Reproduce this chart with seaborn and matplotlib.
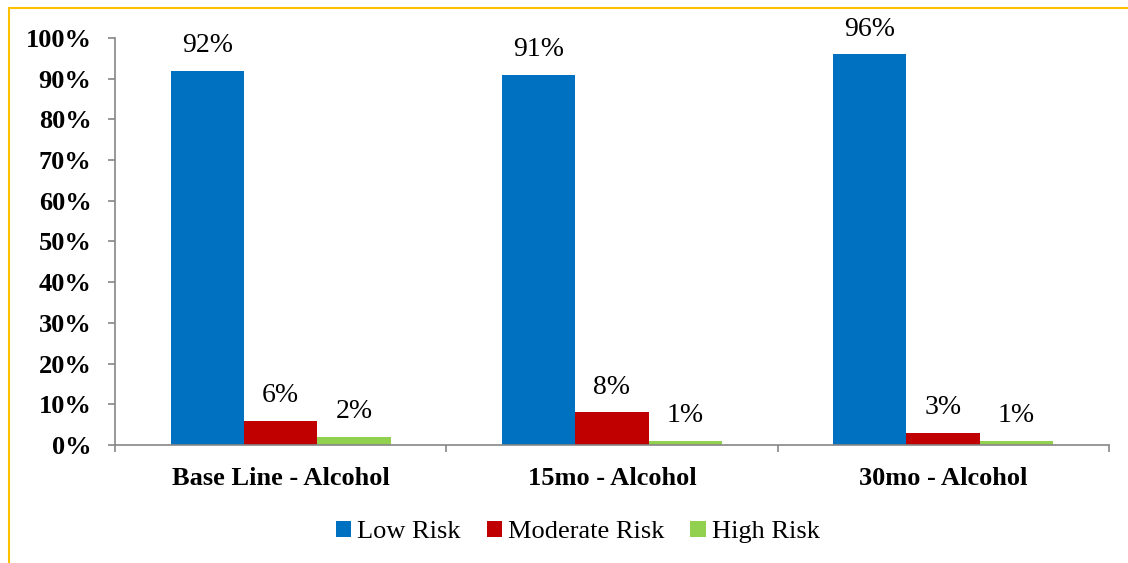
import matplotlib
matplotlib.use("Agg")
import matplotlib.pyplot as plt
import seaborn as sns
import pandas as pd
from matplotlib.patches import Rectangle

categories = ["Base Line - Alcohol", "15mo - Alcohol", "30mo - Alcohol"]
risk_levels = ["Low Risk", "Moderate Risk", "High Risk"]
low_risk = [0.92, 0.91, 0.96]
moderate_risk = [0.06, 0.08, 0.03]
high_risk = [0.02, 0.01, 0.01]

colors = ["#0070C0", "#C00000", "#92D050"]

rows = []
for i, cat in enumerate(categories):
    for level, vals in zip(risk_levels, [low_risk, moderate_risk, high_risk]):
        rows.append({"category": cat, "risk": level, "value": vals[i]})
df = pd.DataFrame(rows)

sns.set_style("white")
plt.rcParams['font.family'] = ['Liberation Serif', 'DejaVu Serif']
plt.rcParams['text.color'] = 'black'
plt.rcParams['xtick.color'] = 'black'
plt.rcParams['ytick.color'] = 'black'

fig = plt.figure(figsize=(11.28, 5.63), dpi=100)
ax = fig.add_axes([0.102, 0.2096, 0.881, 0.7229])

sns.barplot(data=df, x="category", y="value", hue="risk", hue_order=risk_levels,
            palette=colors, width=0.665, gap=0, saturation=1, ax=ax, legend=True,
            edgecolor="none", linewidth=0)

for container in ax.containers:
    ax.bar_label(container, labels=[f"{v*100:.0f}%" for v in container.datavalues],
                 padding=9, fontsize=20, color="black")

ax.set_ylim(0, 1.0)
ax.set_xlim(-0.5, 2.5)
ax.set_yticks([i / 10 for i in range(11)])
ax.set_yticklabels([f"{i*10}%" for i in range(11)], fontsize=19, fontweight="bold")
ax.set_xticks([-0.5, 0.5, 1.5, 2.5], minor=False)
ax.set_xticklabels([])
ax.set_xticks([0, 1, 2], minor=True)
ax.set_xticklabels(categories, minor=True, fontsize=19, fontweight="bold")
ax.tick_params(axis="x", which="major", bottom=True, direction="out", length=5,
               color="#868686", width=1.2)
ax.tick_params(axis="x", which="minor", bottom=True, length=0, pad=16)
ax.tick_params(axis="y", left=True, direction="out", length=5, color="#868686",
               width=1.2, pad=12)
ax.set_xlabel("")
ax.set_ylabel("")
for s in ["top", "right"]:
    ax.spines[s].set_visible(False)
for s in ["left", "bottom"]:
    ax.spines[s].set_color("#868686")
    ax.spines[s].set_linewidth(1.2)

handles, labels = ax.get_legend_handles_labels()
ax.legend(handles, labels, loc="center", bbox_to_anchor=(0.512, 0.055),
          bbox_transform=fig.transFigure, ncol=3, frameon=False, fontsize=19,
          handlelength=0.6, handleheight=0.6, handletextpad=0.2, columnspacing=1.0)

# gold frame on top and left
fig.patches.append(Rectangle((0.008, -0.1), 1.2, 1.085, transform=fig.transFigure,
                             fill=False, edgecolor="#FFC000", linewidth=1.5))

fig.savefig("out.png", dpi=100)
